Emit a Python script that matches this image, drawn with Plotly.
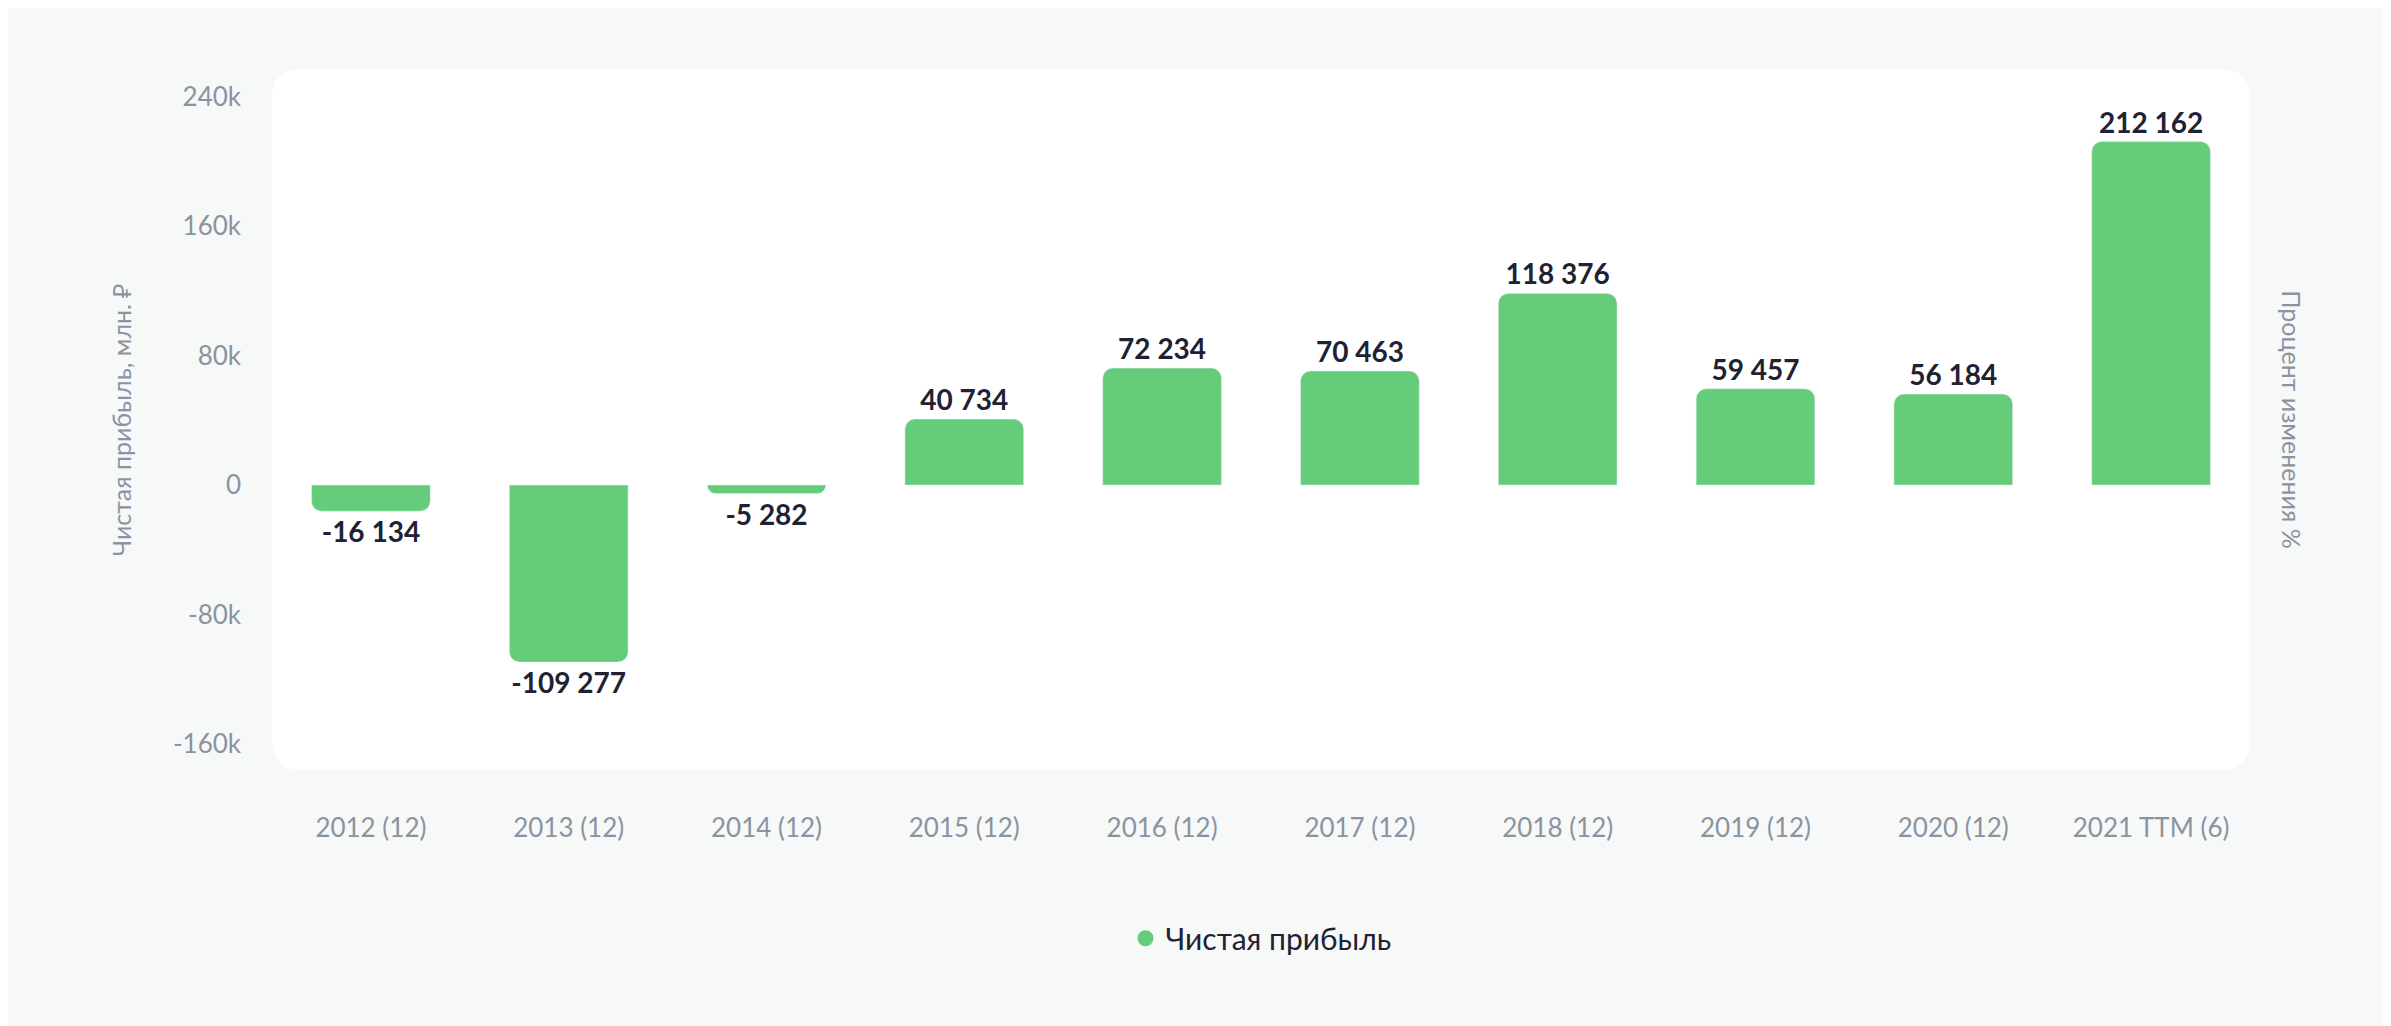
import plotly.graph_objects as go

years = ["2012 (12)", "2013 (12)", "2014 (12)", "2015 (12)", "2016 (12)",
         "2017 (12)", "2018 (12)", "2019 (12)", "2020 (12)", "2021 TTM (6)"]
profit = [-16134, -109277, -5282, 40734, 72234, 70463, 118376, 59457, 56184, 212162]
yticks = [-160000, -80000, 0, 80000, 160000, 240000]
yticklabels = ["-160k", "-80k", "0", "80k", "160k", "240k"]

green = "#65cc7a"
labels = [f"{v:,}".replace(",", " ") for v in profit]

fig = go.Figure()
fig.add_trace(go.Bar(
    x=years, y=profit, name="Чистая прибыль", showlegend=False,
    marker=dict(color=green, cornerradius=10),
    width=0.6,
    text=labels, textposition="outside",
    textfont=dict(size=28, color="#1f2233", family="Lato", weight="bold"),
    cliponaxis=False,
))
# legend entry with a round marker
fig.add_trace(go.Scatter(
    x=[None], y=[None], mode="markers", name="Чистая прибыль",
    marker=dict(color=green, size=26, symbol="circle"),
))

# rounded white panel behind plot area
W, H = 2391, 1026
ml, mr, mt, mb = 264, 149, 61, 264
pw, ph = W - ml - mr, H - mt - mb
r = 30
rx, ry = r / pw, r / ph
path = (f"M {rx} 0 L {1-rx} 0 Q 1 0 1 {ry} L 1 {1-ry} Q 1 1 {1-rx} 1 "
        f"L {rx} 1 Q 0 1 0 {1-ry} L 0 {ry} Q 0 0 {rx} 0 Z")
fig.add_shape(type="path", path=path, xref="paper", yref="paper",
              fillcolor="white", line=dict(width=0), layer="below")

fig.add_annotation(text="Чистая прибыль, млн. ₽", x=-0.085, y=0.5, xref="paper", yref="paper",
                   textangle=-90, showarrow=False, font=dict(size=25, color="#8a94a0"))
fig.add_annotation(text="Процент изменения %", x=1.03, y=0.5, xref="paper", yref="paper",
                   textangle=90, showarrow=False, font=dict(size=25, color="#8a94a0"))

fig.update_layout(
    width=W, height=H,
    margin=dict(l=ml, r=mr, t=mt, b=mb),
    paper_bgcolor="#f7f8f8", plot_bgcolor="rgba(0,0,0,0)",
    font=dict(family="Lato", color="#8a94a0", size=26),
    showlegend=True,
    legend=dict(orientation="h", x=0.5, xanchor="center", y=-0.24, yanchor="middle",
                font=dict(size=30, color="#1f2233")),
)
fig.update_xaxes(showgrid=False, zeroline=False, showline=False, ticks="",
                 ticklabelstandoff=40, tickfont=dict(size=26, color="#8a94a0"))
fig.update_yaxes(range=[-176000, 257000], tickvals=yticks, ticktext=yticklabels,
                 showgrid=False, zeroline=False, showline=False, ticks="",
                 ticklabelstandoff=30, tickfont=dict(size=26, color="#8a94a0"))

fig.write_html("out.html")
